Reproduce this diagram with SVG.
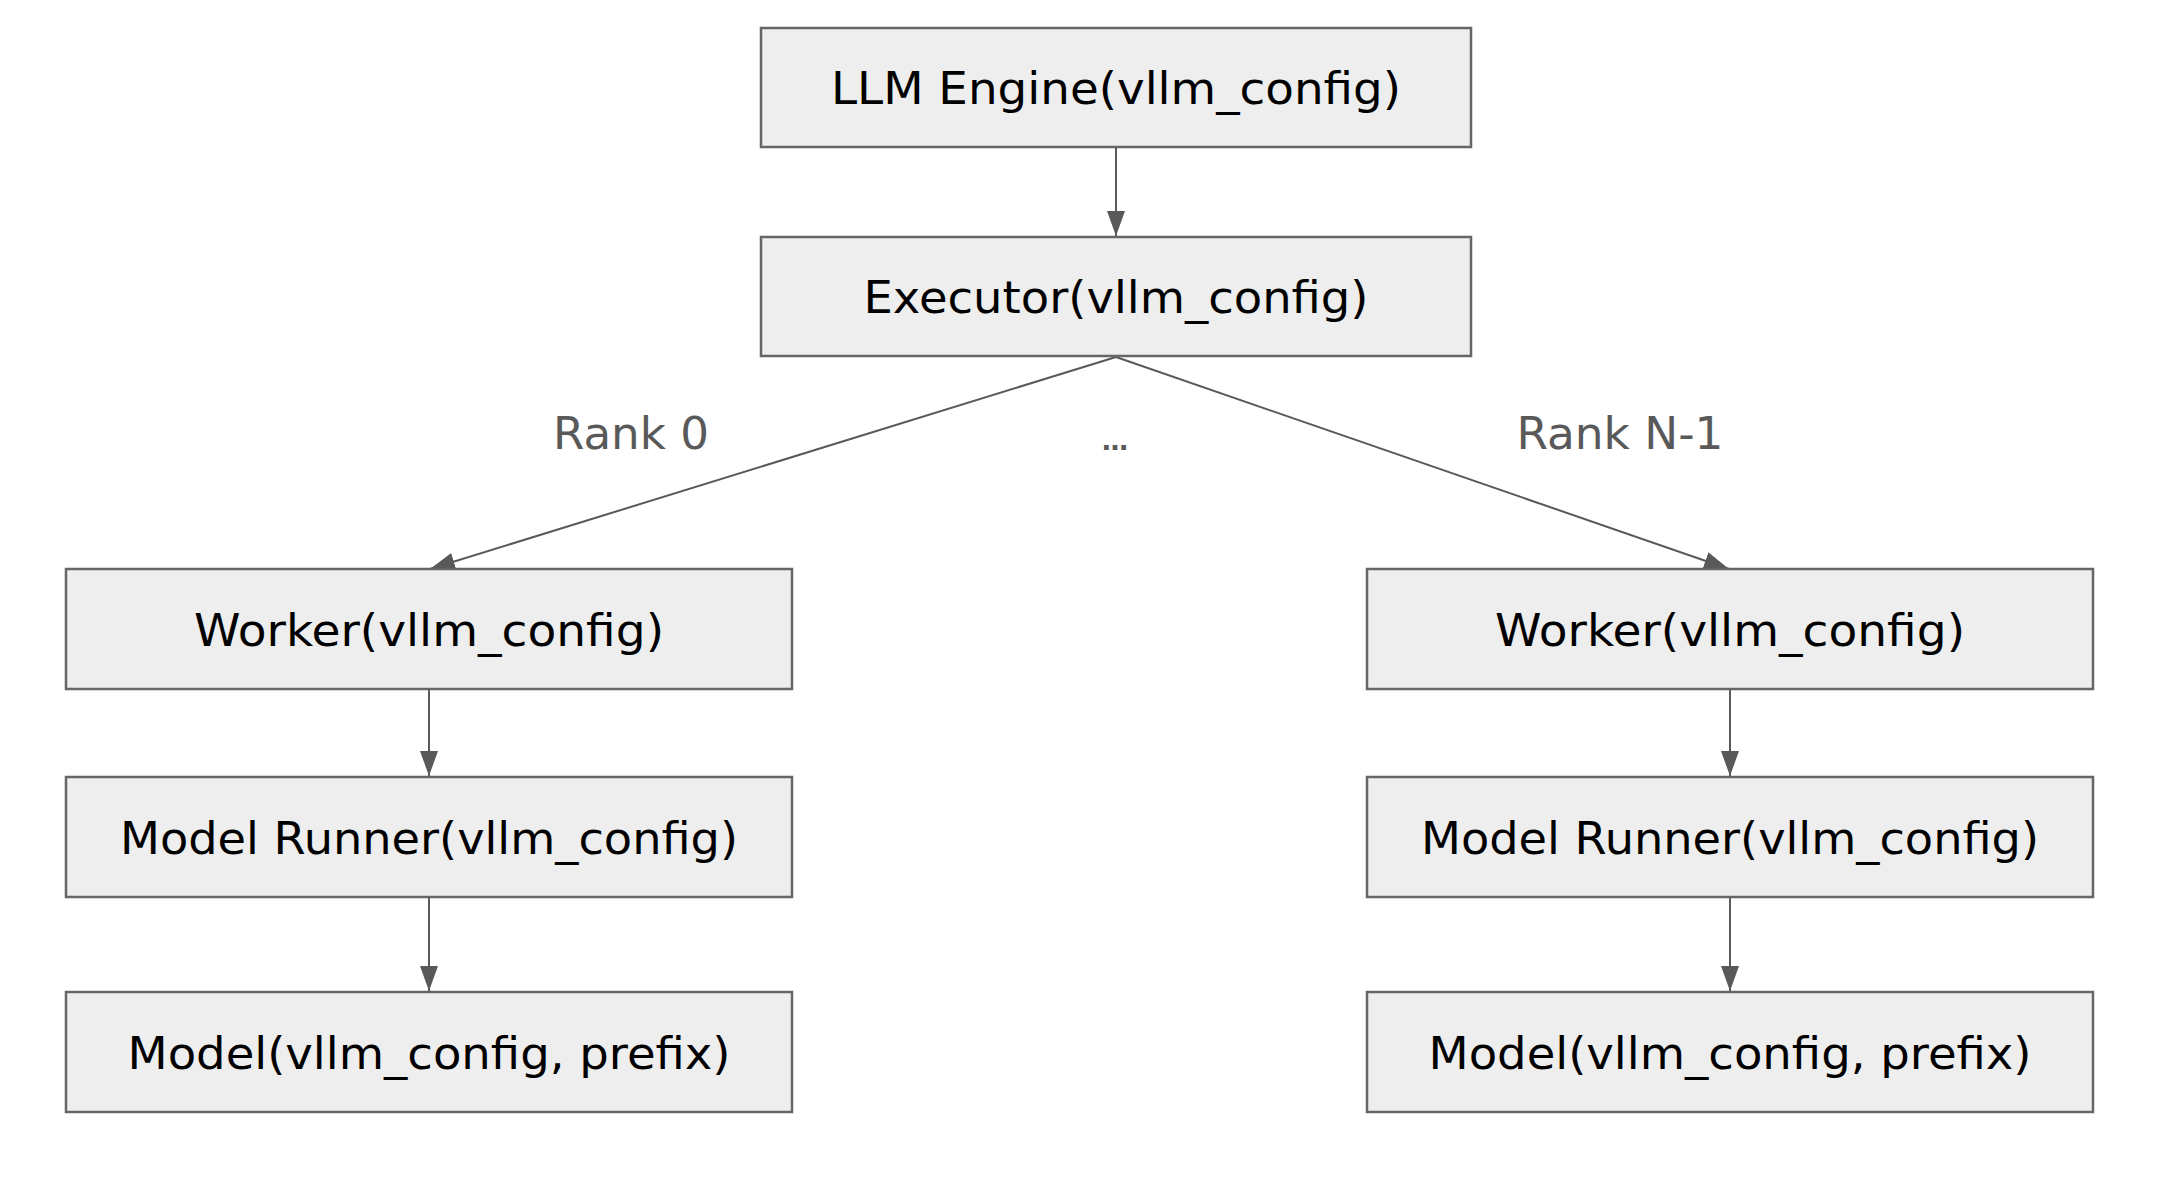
<svg xmlns="http://www.w3.org/2000/svg" width="2180" height="1184" viewBox="0 0 2180 1184">
<style>
.box{fill:#eeeeee;stroke:#666666;stroke-width:2.5}
.lbl{font-family:"DejaVu Sans","Liberation Sans",sans-serif;font-size:45px;fill:#000000;text-anchor:middle}
.rank{font-family:"DejaVu Sans","Liberation Sans",sans-serif;font-size:45px;fill:#595959;text-anchor:middle}
.dots{font-family:"DejaVu Sans","Liberation Sans",sans-serif;font-size:26px;font-weight:bold;fill:#595959;text-anchor:middle}
.edge{stroke:#595959;stroke-width:2;fill:none;marker-end:url(#ah)}
</style>
<defs>
<marker id="ah" markerUnits="userSpaceOnUse" markerWidth="26" markerHeight="18" refX="25" refY="9" orient="auto">
<path d="M0,0 L25,9 L0,18 z" fill="#595959"/>
</marker>
</defs>
<rect width="2180" height="1184" fill="#ffffff"/>
<g id="connectors">
<line class="edge" x1="1116" y1="147" x2="1116" y2="236"/>
<line class="edge" x1="1116" y1="357" x2="430" y2="569"/>
<line class="edge" x1="1116" y1="357" x2="1729" y2="569"/>
<line class="edge" x1="429" y1="690" x2="429" y2="776"/>
<line class="edge" x1="429" y1="898" x2="429" y2="991"/>
<line class="edge" x1="1730" y1="690" x2="1730" y2="776"/>
<line class="edge" x1="1730" y1="898" x2="1730" y2="991"/>
</g>
<g id="llm-engine"><rect class="box" x="761" y="28" width="710" height="119"/><text class="lbl" x="1116" y="104" textLength="570" lengthAdjust="spacingAndGlyphs">LLM Engine(vllm_config)</text></g>
<g id="executor"><rect class="box" x="761" y="237" width="710" height="119"/><text class="lbl" x="1116" y="313" textLength="505" lengthAdjust="spacingAndGlyphs">Executor(vllm_config)</text></g>
<g id="worker-0"><rect class="box" x="66" y="569" width="726" height="120"/><text class="lbl" x="429" y="646" textLength="470" lengthAdjust="spacingAndGlyphs">Worker(vllm_config)</text></g>
<g id="runner-0"><rect class="box" x="66" y="777" width="726" height="120"/><text class="lbl" x="429" y="854" textLength="618" lengthAdjust="spacingAndGlyphs">Model Runner(vllm_config)</text></g>
<g id="model-0"><rect class="box" x="66" y="992" width="726" height="120"/><text class="lbl" x="429" y="1069" textLength="603" lengthAdjust="spacingAndGlyphs">Model(vllm_config, prefix)</text></g>
<g id="worker-n"><rect class="box" x="1367" y="569" width="726" height="120"/><text class="lbl" x="1730" y="646" textLength="470" lengthAdjust="spacingAndGlyphs">Worker(vllm_config)</text></g>
<g id="runner-n"><rect class="box" x="1367" y="777" width="726" height="120"/><text class="lbl" x="1730" y="854" textLength="618" lengthAdjust="spacingAndGlyphs">Model Runner(vllm_config)</text></g>
<g id="model-n"><rect class="box" x="1367" y="992" width="726" height="120"/><text class="lbl" x="1730" y="1069" textLength="603" lengthAdjust="spacingAndGlyphs">Model(vllm_config, prefix)</text></g>
<g id="labels">
<text class="rank" x="631" y="449" textLength="156" lengthAdjust="spacingAndGlyphs">Rank 0</text>
<text class="dots" x="1115" y="450">…</text>
<text class="rank" x="1620" y="449" textLength="207" lengthAdjust="spacingAndGlyphs">Rank N-1</text>
</g>
</svg>
